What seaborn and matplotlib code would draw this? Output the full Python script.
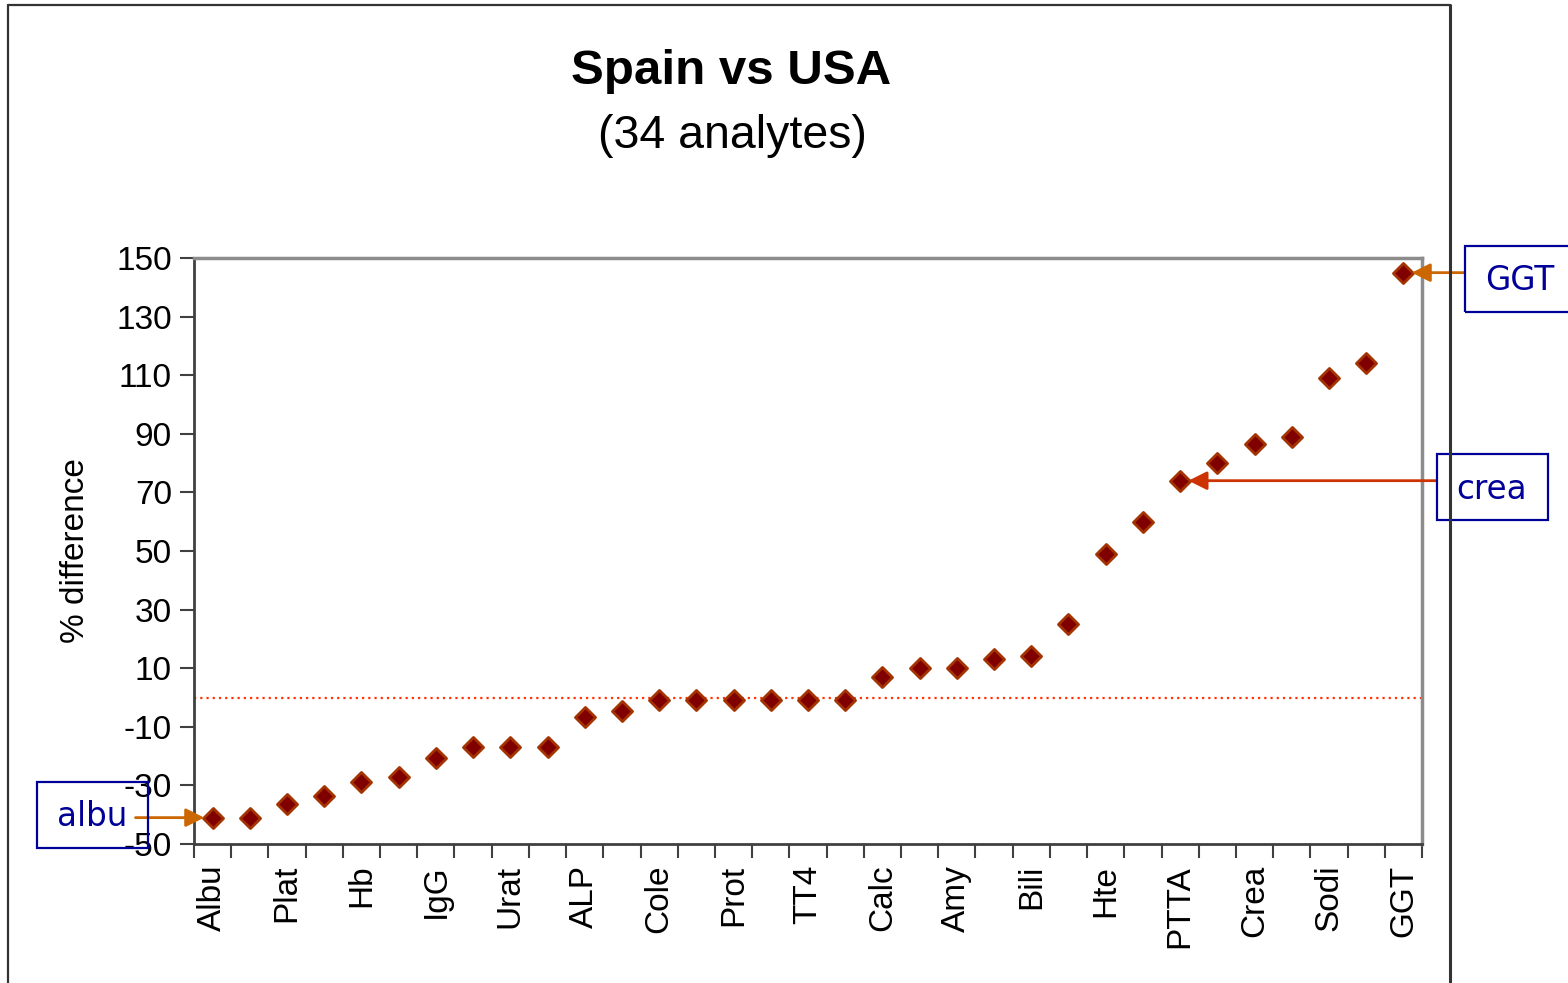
import numpy as np
import pandas as pd
import matplotlib
matplotlib.use("Agg")
import matplotlib.pyplot as plt
import seaborn as sns
from matplotlib.patches import Rectangle
from matplotlib.lines import Line2D

# values (% difference, sorted)
pct_diff = [-41, -41, -36.5, -33.5, -29, -27, -20.5, -17, -17, -17,
            -6.5, -4.5, -1, -1, -1, -1, -1, -1, 7, 10, 10, 13, 14,
            25, 49, 60, 74, 80, 86.5, 89, 109, 114, 145]
# only every other analyte is labelled on the axis
tick_labels = ['Albu', 'Plat', 'Hb', 'IgG', 'Urat', 'ALP', 'Cole', 'Prot', 'TT4',
               'Calc', 'Amy', 'Bili', 'Hte', 'PTTA', 'Crea', 'Sodi', 'GGT']
# callouts: label, index of the point, box centre in pixels (from top-left)
callouts = [('albu', 0, (92, 815)), ('GGT', 32, (1520, 279)), ('crea', 26, (1492, 487))]
callout_colors = ['#CC6600', '#CC6600', '#CC3300']

df = pd.DataFrame({'pos': np.arange(len(pct_diff)), 'diff': pct_diff})

sns.set_style("white")
plt.rcParams['font.family'] = ['Liberation Sans', 'DejaVu Sans']
plt.rcParams['axes.unicode_minus'] = False
plt.rcParams['text.color'] = 'black'
plt.rcParams['axes.labelcolor'] = 'black'
plt.rcParams['xtick.color'] = 'black'
plt.rcParams['ytick.color'] = 'black'

W, H = 1568, 983
fig = plt.figure(figsize=(W / 100, H / 100), dpi=100)
ax = fig.add_axes([194 / W, 1 - 844 / H, (1422 - 194) / W, (844 - 258) / H])

ax.axhline(0, color='#FF3300', lw=1.6, ls=(0, (1, 1.8)), zorder=1)
sns.scatterplot(data=df, x='pos', y='diff', marker='D', s=105, color='#800000',
                edgecolor='#A33300', linewidth=2, ax=ax, zorder=3, legend=False)

ax.set_xlim(-0.5, len(pct_diff) - 0.5)
ax.set_ylim(-50, 150)
ax.set_yticks(np.arange(-50, 151, 20))
ax.tick_params(axis='y', labelsize=24, length=10, width=1.5, color='#404040',
               labelcolor='black', pad=6, left=True)
ax.set_xticks(np.arange(-0.5, len(pct_diff), 1), minor=True)
ax.set_xticks(np.arange(0, len(pct_diff), 2))
ax.set_xticklabels(tick_labels, rotation=90, fontsize=24)
ax.tick_params(axis='x', which='major', length=0, pad=15, labelcolor='black')
ax.tick_params(axis='x', which='minor', length=10, width=1.5, color='#404040', bottom=True)
ax.set_xlabel('')
ax.set_ylabel('% difference', fontsize=24)
ax.yaxis.set_label_coords(-0.084, 0.5)

for side in ['left', 'bottom']:
    ax.spines[side].set_color('#404040')
    ax.spines[side].set_linewidth(2)
for side in ['top', 'right']:
    ax.spines[side].set_color('#8C8C8C')
    ax.spines[side].set_linewidth(2.5)

# titles
fig.text(731 / W, 1 - 71 / H, 'Spain vs USA', ha='center', va='center',
         fontsize=35.5, fontweight='bold')
fig.text(732 / W, 1 - 136 / H, '(34 analytes)', ha='center', va='center', fontsize=33.5)

# outer frame
fig.add_artist(Line2D([8 / W, 8 / W], [0, 1 - 5 / H], color='#333333', lw=1.6))
fig.add_artist(Line2D([8 / W, 1450 / W], [1 - 5 / H, 1 - 5 / H], color='#333333', lw=1.6))
fig.add_artist(Line2D([1450 / W, 1450 / W], [0, 1 - 5 / H], color='#333333', lw=2.2))

# callout boxes and arrows
box_w, box_h = 111, 66
for (name, idx, (cx, cy)), col in zip(callouts, callout_colors):
    fig.add_artist(Rectangle(((cx - box_w / 2) / W, 1 - (cy + box_h / 2) / H),
                             box_w / W, box_h / H, fill=False, ec='#000099', lw=1.6))
    fig.text(cx / W, 1 - (cy + 2) / H, name, ha='center', va='center', fontsize=23.5,
             color='#000099', family='DejaVu Sans')
    if cx < 700:
        start_x = cx + box_w / 2 - 12
    else:
        start_x = cx - box_w / 2
    ax.annotate('', xy=(idx, pct_diff[idx]), xycoords='data',
                xytext=(start_x, pct_diff[idx]), textcoords=('figure pixels', 'data'),
                arrowprops=dict(arrowstyle='-|>', color=col, lw=2,
                                mutation_scale=28, shrinkA=0, shrinkB=6),
                annotation_clip=False, zorder=4)

fig.savefig('out.png', dpi=100, facecolor='white')
